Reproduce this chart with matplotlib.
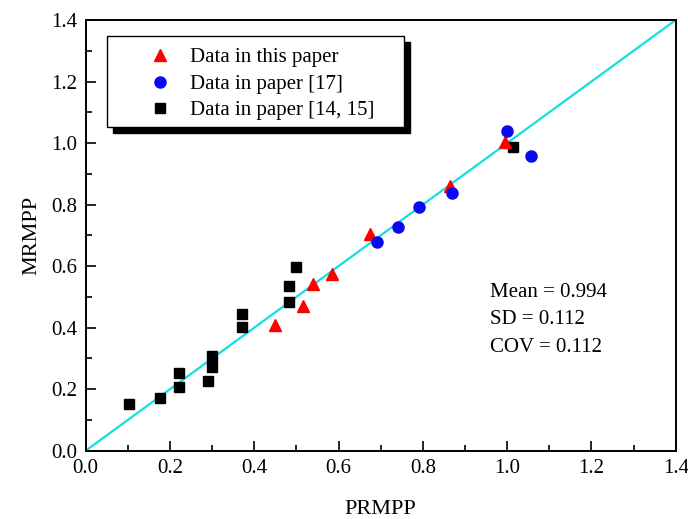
import numpy as np
import matplotlib.pyplot as plt
from matplotlib.patches import Rectangle
from matplotlib.ticker import MultipleLocator

plt.rcParams.update({
    'font.family': ['Liberation Serif', 'DejaVu Serif'],
    'mathtext.fontset': 'stix',
})

# ---- data ----
# Data in this paper (red triangles)
tri_x = [0.448, 0.516, 0.539, 0.584, 0.675, 0.865, 0.995]
tri_y = [0.409, 0.470, 0.542, 0.574, 0.704, 0.860, 1.003]
# Data in paper [17] (blue circles)
cir_x = [0.692, 0.742, 0.791, 0.869, 0.999, 1.057]
cir_y = [0.679, 0.726, 0.791, 0.839, 1.039, 0.959]
# Data in paper [14, 15] (black squares)
sq_x = [0.103, 0.176, 0.221, 0.222, 0.289, 0.300, 0.300, 0.371, 0.371,
        0.483, 0.483, 0.499, 1.015]
sq_y = [0.152, 0.170, 0.254, 0.208, 0.227, 0.308, 0.273, 0.443, 0.401,
        0.535, 0.483, 0.596, 0.986]

stats = ['Mean = 0.994', 'SD = 0.112', 'COV = 0.112']
ref_line = [0.0, 1.4]

C_TRI = '#FF0000'
C_CIR = '#0A0AF0'
C_SQ = '#000000'
C_LINE = '#12E0E0'

fig = plt.figure(figsize=(6.88, 5.19), dpi=100)
ax = fig.add_axes([0.1246, 0.1316, 0.8576, 0.8299])

ax.plot(ref_line, ref_line, color=C_LINE, lw=1.6, zorder=2)
ax.plot(sq_x, sq_y, 's', color=C_SQ, ms=7.2, ls='none', zorder=3,
        label='Data in paper [14, 15]')
ax.plot(tri_x, tri_y, '^', color=C_TRI, ms=9, ls='none', zorder=3,
        label='Data in this paper')
ax.plot(cir_x, cir_y, 'o', color=C_CIR, ms=8, ls='none', zorder=4,
        label='Data in paper [17]')

ax.set_xlim(0, 1.4)
ax.set_ylim(0, 1.4)
ax.xaxis.set_major_locator(MultipleLocator(0.2))
ax.yaxis.set_major_locator(MultipleLocator(0.2))
ax.xaxis.set_minor_locator(MultipleLocator(0.1))
ax.yaxis.set_minor_locator(MultipleLocator(0.1))
ax.tick_params(which='major', direction='in', length=7, width=1.2,
               labelsize=15, pad=6, top=False, right=False)
ax.tick_params(which='minor', direction='in', length=4, width=1.2,
               top=False, right=False)
ax.set_xticklabels([f'{v:.1f}' for v in ax.get_xticks()])
ax.set_yticklabels([f'{v:.1f}' for v in ax.get_yticks()])
for sp in ax.spines.values():
    sp.set_linewidth(1.4)

ax.set_xlabel('PRMPP', fontsize=16, labelpad=16)
ax.set_ylabel('MRMPP', fontsize=16, labelpad=7)

# ---- legend with boxed frame and black drop shadow ----
bx0, by0, bx1, by1 = 0.0361, 0.7516, 0.5395, 0.9629
ax.add_patch(Rectangle((bx0 + 0.0102, by0 - 0.0139), bx1 - bx0, by1 - by0,
                       transform=ax.transAxes, facecolor='black',
                       edgecolor='black', zorder=5))
ax.add_patch(Rectangle((bx0, by0), bx1 - bx0, by1 - by0,
                       transform=ax.transAxes, facecolor='white',
                       edgecolor='black', lw=1.0, zorder=6))
h, l = ax.get_legend_handles_labels()
order = [1, 2, 0]
leg = ax.legend([h[i] for i in order], [l[i] for i in order],
                loc='upper left', bbox_to_anchor=(0.0907, 0.936),
                borderaxespad=0, borderpad=0, frameon=False, fontsize=15,
                handlelength=2.0, handletextpad=0.44, labelspacing=0.34,
                numpoints=1)
leg.set_zorder(7)

for i, s in enumerate(stats):
    ax.text(0.685, 0.3576 - i * 0.0638, s, transform=ax.transAxes,
            fontsize=15, va='baseline', ha='left')

fig.savefig('out.png', dpi=100, facecolor='white')
